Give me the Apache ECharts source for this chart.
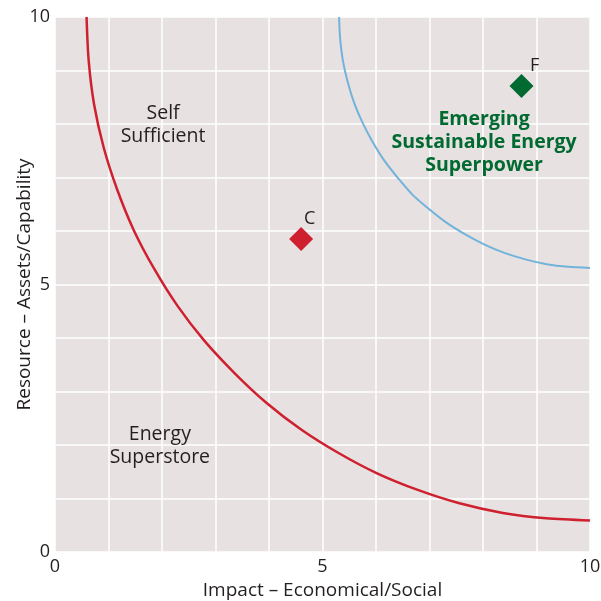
<!DOCTYPE html>
<html>
<head>
<meta charset="utf-8">
<script src="https://cdn.jsdelivr.net/npm/echarts@6/dist/echarts.min.js"></script>
<style>
html,body{margin:0;padding:0;background:#fff;}
#c{width:601px;height:601px;}
</style>
</head>
<body>
<div id="c"></div>
<script>
// Axis ticks
var xTickLabels = [0, 5, 10];
var yTickLabels = [0, 5, 10];

// Outer (red) boundary curve points [impact, resource]
var redCurveX = [0.59, 0.63, 0.73, 0.91, 1.16, 1.47, 1.85, 2.29, 2.79, 3.35, 3.95, 4.60, 5.30, 6.02, 6.78, 7.56, 8.37, 9.18, 10.0];
var redCurveY = [10.0, 9.18, 8.37, 7.56, 6.78, 6.02, 5.30, 4.60, 3.95, 3.35, 2.79, 2.29, 1.85, 1.47, 1.16, 0.91, 0.73, 0.63, 0.59];

// Inner (blue) boundary curve points
var blueCurveX = [5.31, 5.33, 5.38, 5.47, 5.59, 5.75, 5.94, 6.16, 6.41, 6.68, 6.99, 7.31, 7.66, 8.02, 8.40, 8.79, 9.19, 9.59, 10.0];
var blueCurveY = [10.0, 9.59, 9.19, 8.79, 8.40, 8.02, 7.66, 7.31, 6.99, 6.68, 6.41, 6.16, 5.94, 5.75, 5.59, 5.47, 5.38, 5.33, 5.31];

// Points
var pointNames = ['C', 'F'];
var pointX = [4.60, 8.72];
var pointY = [5.85, 8.71];

// Region annotations
var regionNames = ['Self\nSufficient', 'Energy\nSuperstore', 'Emerging\nSustainable Energy\nSuperpower'];
var regionX = [2.02, 1.96, 8.02];
var regionY = [7.98, 1.99, 7.66];

var FONT = 'Open Sans';
var TXT = '#231f20';
var RED = '#cf202f';
var GREEN = '#016a31';
var BLUE = '#72b3dc';

function zip(a, b) { return a.map(function (v, i) { return [v, b[i]]; }); }

var chart = echarts.init(document.getElementById('c'), null, {renderer: 'canvas'});
chart.setOption({
  animation: false,
  backgroundColor: '#ffffff',
  grid: {
    left: 55, right: 11, top: 17, bottom: 49,
    outerBoundsMode: 'none', containLabel: false,
    show: true, backgroundColor: '#e7e1e1', borderWidth: 0
  },
  xAxis: {
    type: 'value', min: 0, max: 10, interval: 1,
    name: 'Impact – Economical/Social',
    nameLocation: 'middle', nameGap: 29, nameMoveOverlap: false,
    nameTextStyle: {fontFamily: FONT, fontSize: 19, color: TXT},
    axisLine: {show: false}, axisTick: {show: false},
    axisLabel: {
      fontFamily: FONT, fontSize: 18, color: TXT, margin: 6,
      formatter: function (v) { return xTickLabels.indexOf(v) >= 0 ? String(v) : ''; }
    },
    splitLine: {show: true, lineStyle: {color: '#ffffff', width: 1.5}}
  },
  yAxis: {
    type: 'value', min: 0, max: 10, interval: 1,
    name: 'Resource – Assets/Capability',
    nameLocation: 'middle', nameGap: 21, nameMoveOverlap: false,
    nameTextStyle: {fontFamily: FONT, fontSize: 19, color: TXT},
    axisLine: {show: false}, axisTick: {show: false},
    axisLabel: {
      fontFamily: FONT, fontSize: 18, color: TXT, margin: 5,
      formatter: function (v) { return yTickLabels.indexOf(v) >= 0 ? String(v) : ''; }
    },
    splitLine: {show: true, lineStyle: {color: '#ffffff', width: 1.5}}
  },
  series: [
    {
      type: 'line', data: zip(redCurveX, redCurveY), smooth: 0.3,
      symbol: 'none', lineStyle: {color: RED, width: 2.5}, silent: true, z: 3
    },
    {
      type: 'line', data: zip(blueCurveX, blueCurveY), smooth: 0.3,
      symbol: 'none', lineStyle: {color: BLUE, width: 2}, silent: true, z: 3
    },
    {
      type: 'scatter', symbol: 'diamond', symbolSize: 24, z: 5,
      itemStyle: {opacity: 1},
      data: pointNames.map(function (n, i) {
        return {name: n, value: [pointX[i], pointY[i]],
          itemStyle: {color: i === 0 ? RED : GREEN, opacity: 1},
          label: {offset: i === 0 ? [8.5, 3] : [13, 3]}};
      }),
      label: {
        show: true, position: 'top', distance: 2,
        formatter: '{b}', fontFamily: FONT, fontSize: 18, color: TXT
      }
    },
    {
      type: 'scatter', symbolSize: 0, z: 6, silent: true,
      itemStyle: {opacity: 1},
      data: regionNames.map(function (n, i) {
        return {name: n, value: [regionX[i], regionY[i]],
          label: i === 2 ? {color: GREEN, fontWeight: 'bold'} : {}};
      }),
      label: {
        show: true, position: 'inside', formatter: '{b}',
        fontFamily: FONT, fontSize: 19.5, lineHeight: 23, color: TXT, align: 'center'
      }
    }
  ]
});
</script>
</body>
</html>
